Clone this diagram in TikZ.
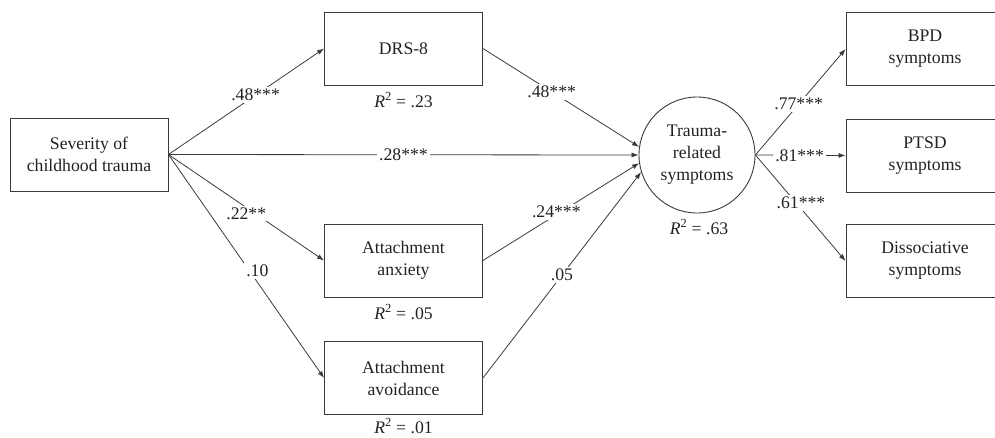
\documentclass[tikz,border=0pt]{standalone}
\usepackage{fontspec}
\setmainfont{Liberation Serif}
\usetikzlibrary{arrows.meta}
\definecolor{ink}{HTML}{222222}
\definecolor{edgecol}{HTML}{3A3A3A}
\begin{document}
\begin{tikzpicture}[x=1pt,y=-1pt,
  font=\fontsize{17.7}{22}\selectfont, text=ink,
  box/.style={draw=edgecol, line width=0.9pt, rectangle, minimum width=158pt, minimum height=73pt, align=center, inner sep=0pt},
  latent/.style={draw=edgecol, line width=0.9pt, circle, minimum size=116pt, align=center, inner sep=0pt},
  arr/.style={draw=edgecol, line width=0.8pt, -{Latex[length=7pt,width=5pt]}},
  coef/.style={fill=white, inner sep=2pt},
  rsq/.style={inner sep=1pt}]
\useasboundingbox (0,0) rectangle (995,437);
\clip (0,0) rectangle (995,437);

% nodes
\node[box] (sev) at (89,154.5) {Severity of\\childhood trauma};
\node[box] (drs) at (403.5,48.5) {DRS-8};
\node[box] (anx) at (403.5,260.5) {Attachment\\anxiety};
\node[box] (avo) at (403.5,378) {Attachment\\avoidance};
\node[latent] (circ) at (697,155) {Trauma-\\related\\symptoms};
\node[box] (bpd) at (925,49) {BPD\\symptoms};
\node[box] (ptsd) at (925,155.5) {PTSD\\symptoms};
\node[box] (dis) at (925,261) {Dissociative\\symptoms};

% R-squared labels
\node[rsq] (drsr) at (403.5,100) {\textit{R}\textsuperscript{2} = .23};
\node[rsq] (circr) at (699,227) {\textit{R}\textsuperscript{2} = .63};
\node[rsq] (anxr) at (403.5,312) {\textit{R}\textsuperscript{2} = .05};
\node[rsq] (avor) at (403.5,426) {\textit{R}\textsuperscript{2} = .01};

% paths
\draw[arr] (sev.east) -- node[coef,pos=0.56] {.48***} (drs.west);
\draw[arr] (sev.east) -- node[coef,pos=0.5] {.28***} (circ.west);
\draw[arr] (sev.east) -- node[coef,pos=0.5,yshift=-6pt] {.22**} (anx.west);
\draw[arr] (sev.east) -- node[coef,pos=0.52,xshift=8pt] {.10} (avo.west);

\draw[arr] (drs.east) -- node[coef,pos=0.44] {.48***} (circ.172);
\draw[arr] (anx.east) -- node[coef,pos=0.47,yshift=3pt] {.24***} (circ.188);
\draw[arr] (avo.east) -- node[coef,pos=0.5] {.05} (circ.197);

\draw[arr] (circ.east) -- node[coef,pos=0.48] {.77***} (bpd.west);
\draw[arr] (circ.east) -- node[coef,pos=0.49] {.81***} (ptsd.west);
\draw[arr] (circ.east) -- node[coef,pos=0.45,xshift=5pt] {.61***} (dis.west);
\end{tikzpicture}
\end{document}
